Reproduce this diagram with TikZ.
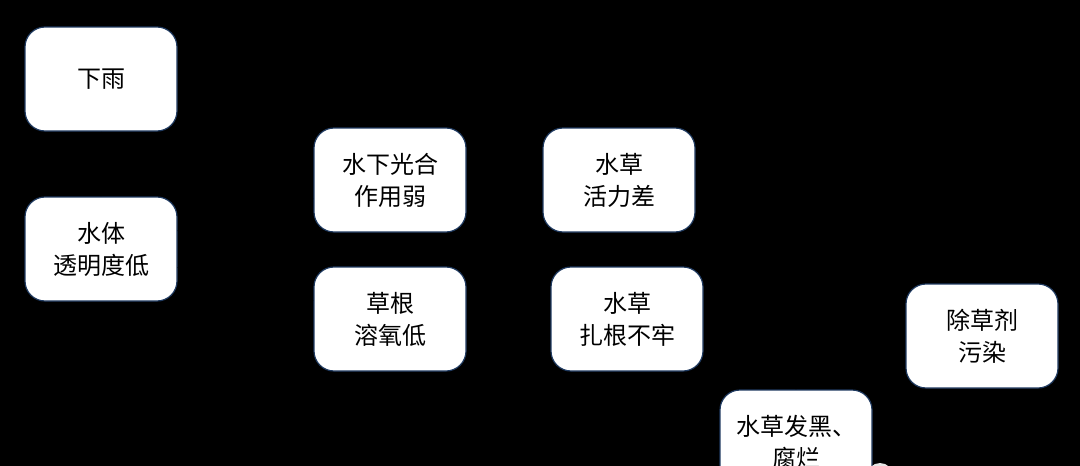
\documentclass[tikz,border=0pt]{standalone}
\usepackage{fontspec}
\newfontfamily\cjk{Noto Sans CJK SC}
\usetikzlibrary{arrows.meta}
\definecolor{boxedge}{HTML}{1F3A60}
\tikzset{
  box/.style={draw=boxedge, line width=1.2pt, fill=white, rounded corners=20pt,
    minimum width=152pt, minimum height=104pt, inner sep=0pt, align=center,
    font=\cjk\fontsize{24}{32}\selectfont},
  link/.style={black, thick, -{Stealth}}
}
\begin{document}
\begin{tikzpicture}[x=1pt,y=-1pt]
  \fill[black] (0,0) rectangle (1080,466);
  \useasboundingbox (0,0) rectangle (1080,466);
  \clip (0,0) rectangle (1080,466);
  % causes
  \node[box] (rain) at (101,79) {下雨};
  \node[box] (clarity) at (101,249) {水体\\透明度低};
  \node[box] (photo) at (390,180) {水下光合\\作用弱};
  \node[box] (oxygen) at (390,319) {草根\\溶氧低};
  \node[box] (vigour) at (619,180) {水草\\活力差};
  \node[box] (rooting) at (627,319) {水草\\扎根不牢};
  \node[box] (herb) at (982,336) {除草剂\\污染};
  \node[box] (rot) at (796,442) {水草发黑、\\腐烂};
  \fill[gray!20] (880,476) circle (13pt);
  % links (black on black)
  \draw[link] (rain) -- (clarity);
  \draw[link] (clarity) -- (photo);
  \draw[link] (clarity) -- (oxygen);
  \draw[link] (photo) -- (vigour);
  \draw[link] (oxygen) -- (rooting);
  \draw[link] (vigour.east) -| (rot.north);
  \draw[link] (rooting) -- (rot);
  \draw[link] (herb.west) -| (rot.north);
\end{tikzpicture}
\end{document}
